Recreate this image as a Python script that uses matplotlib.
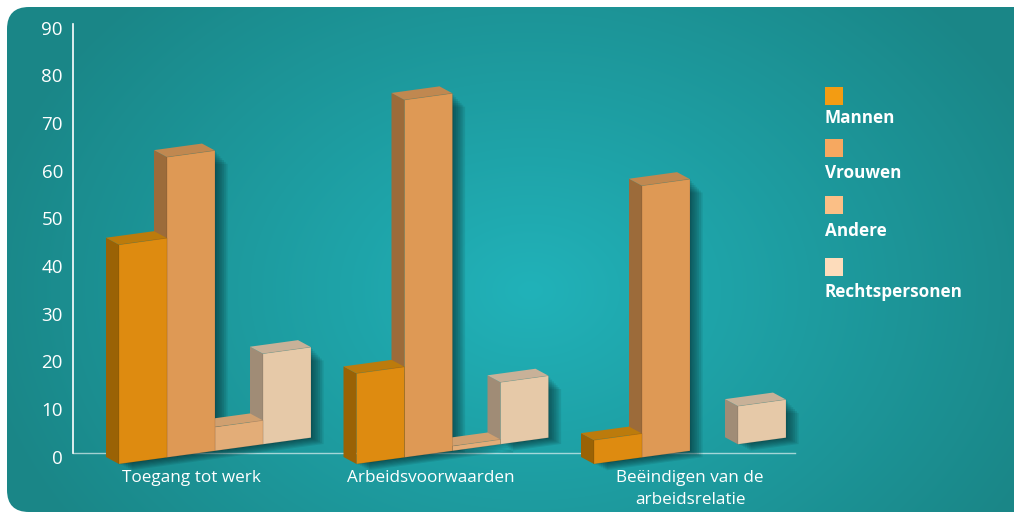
import numpy as np
import matplotlib
matplotlib.use("Agg")
import matplotlib.pyplot as plt
from matplotlib.patches import Polygon, FancyBboxPatch, Rectangle

plt.rcParams['font.family'] = ['Open Sans', 'DejaVu Sans']

# data
categories = ["Toegang tot werk", "Arbeidsvoorwaarden", "Beëindigen van de\narbeidsrelatie"]
series = ["Mannen", "Vrouwen", "Andere", "Rechtspersonen"]
mannen = [46, 19, 5]
vrouwen = [63, 75, 57]
andere = [5, 1, 0]
rechtspersonen = [19, 13, 8]
yticks = [0, 10, 20, 30, 40, 50, 60, 70, 80, 90]

values = [mannen, vrouwen, andere, rechtspersonen]
front = ["#DE8B10", "#DE9955", "#E3AD78", "#E6C9A8"]
side = ["#9A6205", "#9C6B3A", "#C8986A", "#A08C76"]
top = ["#BC7B0C", "#C08850", "#D0A070", "#C8B198"]
legend_col = ["#F39C12", "#F6A860", "#FBBF86", "#FDDCBB"]

W_PX, H_PX = 1014, 517
fig = plt.figure(figsize=(W_PX / 100, H_PX / 100), dpi=100)

# background panel with radial gradient
bg = fig.add_axes([0, 0, 1, 1])
bg.set_xlim(0, W_PX)
bg.set_ylim(H_PX, 0)
bg.axis("off")
yy, xx = np.mgrid[0:H_PX, 0:W_PX]
r = np.sqrt(((xx - 530) / 560.0) ** 2 + ((yy - 290) / 420.0) ** 2)
r = np.clip(r, 0, 1)
inner = np.array([0x21, 0xB2, 0xB9]) / 255
outer = np.array([0x1A, 0x86, 0x87]) / 255
img = inner[None, None, :] * (1 - r[..., None]) + outer[None, None, :] * r[..., None]
im = bg.imshow(img, extent=(0, W_PX, H_PX, 0), zorder=0)
panel = FancyBboxPatch((7, 7), W_PX + 30, 512 - 7, boxstyle="round,pad=0,rounding_size=22",
                       transform=bg.transData, facecolor="none", edgecolor="none")
bg.add_patch(panel)
im.set_clip_path(panel)

# main axes: 0 at y=453px, 90 at y=24px, x from 73 to 795 px
px_per_cat = 237.5
x_lo = (73 - 215) / px_per_cat
x_hi = (795 - 215) / px_per_cat
ax = fig.add_axes([73 / W_PX, (H_PX - 453) / H_PX, (795 - 73) / W_PX, (453 - 24) / H_PX])
ax.set_xlim(x_lo, x_hi)
ax.set_ylim(0, 90)
ax.patch.set_alpha(0)
for s in ax.spines.values():
    s.set_visible(False)
ax.set_xticks([])
ax.set_yticks([])

PX = 1 / px_per_cat      # x data per pixel
PY = 90 / (453 - 24)     # y data per pixel
bw = 48 * PX
dx, dy = -13 * PX, 7 * PY
b0 = -11 * PY
shear = 0.137 * PY / PX

ax.plot([x_lo, x_lo], [0, 90], color="white", lw=1.2, zorder=1, clip_on=False)
ax.plot([x_lo, x_hi], [0, 0], color="white", lw=1.0, alpha=0.6, zorder=1, clip_on=False)

for v in yticks:
    ax.text(x_lo - 10 * PX, v - 1.2, str(v), color="white", fontsize=13.5,
            ha="right", va="center", clip_on=False)

label_x = [-23, -22, 0]
for i, (cat, lx) in enumerate(zip(categories, label_x)):
    ax.text(i + lx * PX, -3.6, cat, color="white", fontsize=12.3, ha="center",
            va="top", linespacing=1.45, clip_on=False)

for i in range(len(categories)):
    g_left = i - 2 * bw
    # shadows
    for j in range(4):
        v = values[j][i]
        if v <= 0:
            continue
        xl = g_left + j * bw
        xr = xl + bw
        bl = b0 + shear * (xl - g_left)
        br = b0 + shear * (xr - g_left)
        for k in range(1, 8):
            ox, oy = 1.8 * k * PX, -0.9 * k * PY
            poly = [(xl + ox, bl + oy), (xr + ox, br + oy),
                    (xr + ox, br + v + oy - k * PY), (xl + ox, bl + v + oy)]
            ax.add_patch(Polygon(poly, closed=True, facecolor="#04282b",
                                 edgecolor="none", alpha=0.11, zorder=2, clip_on=False))
    # bars right to left so front faces cover neighbours' side faces
    for j in range(3, -1, -1):
        v = values[j][i]
        if v <= 0:
            continue
        xl = g_left + j * bw
        xr = xl + bw
        bl = b0 + shear * (xl - g_left)
        br = b0 + shear * (xr - g_left)
        z = 3 + (4 - j) * 0.1
        sidep = [(xl, bl), (xl, bl + v), (xl + dx, bl + v + dy), (xl + dx, bl + dy)]
        topp = [(xl, bl + v), (xr, br + v), (xr + dx, br + v + dy), (xl + dx, bl + v + dy)]
        frontp = [(xl, bl), (xr, br), (xr, br + v), (xl, bl + v)]
        ax.add_patch(Polygon(sidep, closed=True, facecolor=side[j], edgecolor="none",
                             zorder=z, clip_on=False))
        ax.add_patch(Polygon(topp, closed=True, facecolor=top[j], edgecolor="none",
                             zorder=z, clip_on=False))
        ax.add_patch(Polygon(frontp, closed=True, facecolor=front[j], edgecolor="#00000022",
                             lw=0.5, zorder=z, clip_on=False))

# legend: square above bold label
sq_y = [87, 139, 196, 258]
lab_y = [118, 173, 231, 292]
for name, c, sy, ly in zip(series, legend_col, sq_y, lab_y):
    bg.add_patch(Rectangle((825, sy), 18, 18, facecolor=c, edgecolor="none", zorder=5))
    bg.text(825, ly, name, color="white", fontsize=12.3, fontweight="bold",
            ha="left", va="center", zorder=5)

fig.savefig("out.png", dpi=100)
